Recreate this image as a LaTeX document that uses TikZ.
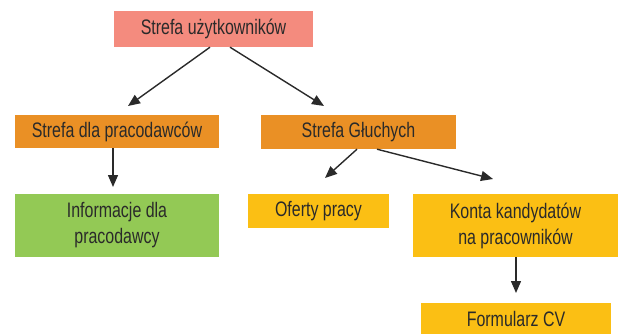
\documentclass[tikz,border=0pt]{standalone}
\usepackage{fontspec}
\setmainfont{Liberation Sans}[FakeStretch=0.76]
\usetikzlibrary{arrows.meta,calc}
\definecolor{salmon}{HTML}{F48B7E}
\definecolor{orangebox}{HTML}{EA9025}
\definecolor{greenbox}{HTML}{93C955}
\definecolor{yellowbox}{HTML}{FBBF14}
\definecolor{ink}{HTML}{2A2A2A}
\begin{document}
\begin{tikzpicture}[x=1pt,y=-1pt,
  box/.style={fill=#1, draw=none, inner sep=0pt, align=center, text=ink,
    font=\fontsize{21}{26}\selectfont},
  link/.style={draw=ink, line width=1.4pt, -{Triangle[length=12pt,width=10pt]}}]
  \useasboundingbox (0,0) rectangle (618,334);
  % boxes
  \node[box=salmon, minimum width=199pt, minimum height=36pt] (top) at (213.5,29) {Strefa użytkowników};
  \node[box=orangebox, minimum width=204pt, minimum height=33pt] (pl) at (117,131.5) {Strefa dla pracodawców};
  \node[box=orangebox, minimum width=195pt, minimum height=34pt] (gl) at (358.5,132) {Strefa Głuchych};
  \node[box=greenbox, minimum width=204pt, minimum height=63pt] (info) at (117,225.5) {Informacje dla\\pracodawcy};
  \node[box=yellowbox, minimum width=141pt, minimum height=34pt] (oferty) at (318.5,211) {Oferty pracy};
  \node[box=yellowbox, minimum width=205pt, minimum height=63pt] (konta) at (515.5,225.5) {Konta kandydatów\\na pracowników};
  \node[box=yellowbox, minimum width=190pt, minimum height=31pt] (cv) at (516,318.5) {Formularz CV};
  % arrow ends, short of the target boxes
  \coordinate (e-pl) at (128,106);
  \coordinate (e-gl) at (324,106);
  \coordinate (e-info) at (113,187);
  \coordinate (e-oferty) at (325,178);
  \coordinate (e-konta) at (493,179);
  \coordinate (e-cv) at (516,293);
  % connectors
  \draw[link] ([xshift=-3.5pt]top.south) -- (e-pl);
  \draw[link] ([xshift=16.5pt]top.south) -- (e-gl);
  \draw[link] ([xshift=-4pt]pl.south) -- (e-info);
  \draw[link] ([xshift=-1.5pt]gl.south) -- (e-oferty);
  \draw[link] ([xshift=18.5pt]gl.south) -- (e-konta);
  \draw[link] ([xshift=0.5pt]konta.south) -- (e-cv);
\end{tikzpicture}
\end{document}
